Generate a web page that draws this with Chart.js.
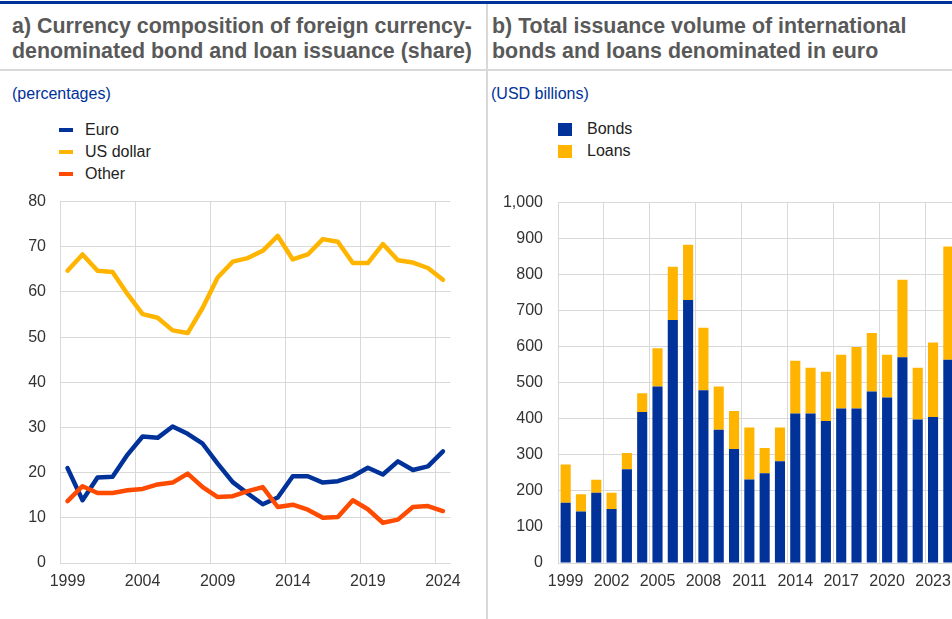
<!DOCTYPE html>
<html>
<head>
<meta charset="utf-8">
<script src="https://cdn.jsdelivr.net/npm/chart.js@4.4.1/dist/chart.umd.min.js"></script>
<style>
  body { margin:0; width:952px; height:619px; overflow:hidden; background:#fff; position:relative;
         font-family:"Liberation Sans", Arial, sans-serif; }
  .topline { position:absolute; left:0; top:1px; width:952px; height:3px; background:#003299; }
  .hsep { position:absolute; left:0; top:69px; width:952px; height:2px; background:#d9d9d9; }
  .vsep { position:absolute; left:486px; top:4px; width:2px; height:615px; background:#d9d9d9; }
  .title { position:absolute; top:14px; font-weight:bold; font-size:21.4px; line-height:25px; color:#595959; white-space:nowrap; }
  .unit { position:absolute; top:85px; font-size:16px; color:#003299; }
  .legend { position:absolute; font-size:16px; color:#222; }
  .legend div { position:relative; height:22px; line-height:22px; padding-left:26px; }
  .legend .ln { position:absolute; left:0; top:9px; width:14px; height:4px; }
  .legend .sq { position:absolute; left:0; top:5px; width:14px; height:13px; }
  canvas { position:absolute; }
</style>
</head>
<body>
<div class="topline"></div>
<div class="hsep"></div>
<div class="vsep"></div>

<div class="title" style="left:12px">a) Currency composition of foreign currency-<br>denominated bond and loan issuance (share)</div>
<div class="title" style="left:492px">b) Total issuance volume of international<br>bonds and loans denominated in euro</div>
<div class="unit" style="left:12px">(percentages)</div>
<div class="unit" style="left:491px">(USD billions)</div>

<div class="legend" style="left:59px;top:119px">
  <div><span class="ln" style="background:#003299"></span>Euro</div>
  <div><span class="ln" style="background:#ffb400"></span>US dollar</div>
  <div><span class="ln" style="background:#ff4b00"></span>Other</div>
</div>
<div class="legend" style="left:558px;top:118px">
  <div style="padding-left:29px"><span class="sq" style="background:#003299"></span>Bonds</div>
  <div style="padding-left:29px"><span class="sq" style="background:#ffb400"></span>Loans</div>
</div>

<canvas id="chartShare" width="470" height="432" style="left:0;top:178px"></canvas>
<canvas id="chartVolume" width="482" height="432" style="left:487px;top:178px"></canvas>

<script>
const years = ['1999','2000','2001','2002','2003','2004','2005','2006','2007','2008','2009','2010','2011',
               '2012','2013','2014','2015','2016','2017','2018','2019','2020','2021','2022','2023','2024'];

// panel a) shares, %
const euroShare  = [21.0,13.9,18.9,19.1,24.0,28.0,27.7,30.2,28.6,26.4,22.0,17.9,15.4,13.0,14.5,19.2,19.2,17.8,18.1,19.2,21.1,19.6,22.5,20.6,21.4,24.7];
const usdShare   = [64.7,68.3,64.7,64.4,59.5,55.1,54.3,51.5,50.9,56.5,63.2,66.7,67.5,69.1,72.4,67.2,68.3,71.7,71.1,66.4,66.4,70.6,67.0,66.5,65.3,62.7];
const otherShare = [13.7,17.0,15.5,15.5,16.1,16.4,17.4,17.8,19.8,16.8,14.6,14.8,15.9,16.8,12.4,12.9,11.8,10.0,10.2,13.9,11.9,8.9,9.6,12.4,12.6,11.5];

// panel b) USD billions
const bonds = [167,143,195,150,260,419,490,674,730,479,370,316,232,249,282,415,415,394,429,429,476,459,571,398,405,564];
const loans = [106,48,36,45,45,52,106,148,153,174,120,106,144,70,94,146,127,137,149,170,162,119,215,144,207,314];

const gridCol = '#d9d9d9';
const tickFont = { family:'"Liberation Sans", Arial, sans-serif', size:16 };
const tickCol = '#333';

function lineSet(label, data, color) {
    return { label: label, data: data, borderColor: color, backgroundColor: color, borderWidth: 4.5,
             pointRadius: 0, tension: 0, borderJoinStyle: 'round', borderCapStyle: 'round' };
}

// a) line chart
new Chart(document.getElementById('chartShare'), {
    type: 'line',
    data: {
        labels: years,
        datasets: [
            lineSet('Other', otherShare, '#ff4b00'),
            lineSet('US dollar', usdShare, '#ffb400'),
            lineSet('Euro', euroShare, '#003299')
        ]
    },
    options: {
        responsive: false, animation: false,
        layout: { padding: { top: 10, right: 13, left: 0, bottom: 0 } },
        plugins: { legend: { display: false }, tooltip: { enabled: false } },
        scales: {
            x: {
                offset: true,
                grid: { offset: true, drawTicks: false, color: c => (c.index % 5 === 0 ? gridCol : 'rgba(0,0,0,0)') },
                border: { display: false },
                ticks: { autoSkip: false, maxRotation: 0, padding: 9, font: tickFont, color: tickCol,
                         callback: (v, i) => (i % 5 === 0 ? years[i] : '') },
                afterFit: s => { s.height = 47; }
            },
            y: {
                min: 0, max: 80,
                grid: { drawTicks: false, color: gridCol },
                border: { display: false },
                ticks: { stepSize: 10, padding: 14, font: tickFont, color: tickCol },
                afterFit: s => { s.width = 60; }
            }
        }
    }
});

// b) stacked bar chart
new Chart(document.getElementById('chartVolume'), {
    type: 'bar',
    data: {
        labels: years,
        datasets: [
            { label: 'Bonds', data: bonds, backgroundColor: '#003299', barPercentage: 0.66, categoryPercentage: 1 },
            { label: 'Loans', data: loans, backgroundColor: '#ffb400', barPercentage: 0.66, categoryPercentage: 1 }
        ]
    },
    options: {
        responsive: false, animation: false,
        layout: { padding: { top: 10, right: 13, left: 0, bottom: 0 } },
        plugins: { legend: { display: false }, tooltip: { enabled: false } },
        scales: {
            x: {
                stacked: true,
                grid: { offset: true, drawTicks: false, color: c => (c.index % 3 === 0 ? gridCol : 'rgba(0,0,0,0)') },
                border: { display: false },
                ticks: { autoSkip: false, maxRotation: 0, padding: 9, font: tickFont, color: tickCol,
                         callback: (v, i) => (i % 3 === 0 ? years[i] : '') },
                afterFit: s => { s.height = 47; }
            },
            y: {
                stacked: true, min: 0, max: 1000,
                grid: { drawTicks: false, color: gridCol },
                border: { display: false },
                ticks: { stepSize: 100, padding: 15, font: tickFont, color: tickCol,
                         callback: v => v.toLocaleString('en-US') },
                afterFit: s => { s.width = 71; }
            }
        }
    }
});
</script>
</body>
</html>
